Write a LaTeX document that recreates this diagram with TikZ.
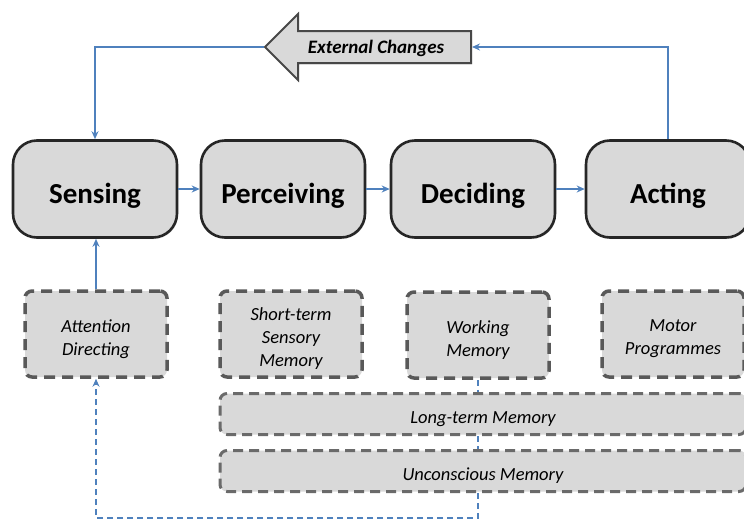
\documentclass[tikz,border=0pt]{standalone}
\usepackage{fontspec}
\setmainfont{Carlito}
\usetikzlibrary{shapes.arrows,arrows.meta,shadows}
\definecolor{boxfill}{HTML}{D9D9D9}
\definecolor{boxline}{HTML}{262626}
\definecolor{dashline}{HTML}{595959}
\definecolor{flowblue}{HTML}{4F81BD}

\begin{document}
\begin{tikzpicture}[x=1pt,y=-1pt,
  softshadow/.style={drop shadow={opacity=0.2, shadow xshift=1pt, shadow yshift=-1.5pt}},
  stage/.style={draw=boxline, line width=2.6pt, fill=boxfill, rounded corners=24pt,
    minimum width=164pt, minimum height=97pt, softshadow,
    text height=29pt, text depth=1pt,
    font=\fontsize{29}{32}\selectfont\bfseries},
  storetext/.style={align=center, yshift=-5pt,
    font=\fontsize{18.5}{23}\selectfont\itshape},
  store/.style={draw=dashline, line width=3.5pt, dash pattern=on 11pt off 7pt,
    fill=boxfill, rounded corners=7pt, minimum width=142pt, minimum height=86pt,
    label={[storetext]center:#1}},
  longstore/.style={store={#1}, line width=3pt, draw=dashline!90,
    dash pattern=on 10pt off 6pt, minimum width=526pt, minimum height=41pt},
  flow/.style={draw=flowblue, line width=1.5pt, -{Stealth[length=8pt,width=7pt]}},
  recall/.style={draw=flowblue, line width=1.5pt, dash pattern=on 6pt off 4pt}]

\useasboundingbox (0,0) rectangle (744,522);

% processing stages
\node[stage] (sens) at (95,189) {Sensing};
\node[stage] (perc) at (283,189) {Perceiving};
\node[stage] (deci) at (473,189) {Deciding};
\node[stage] (act)  at (668,189) {Acting};

% supporting memories and functions
\node[store={Attention\\Directing}]          (ad)   at (96,334)  {};
\node[store={Short-term\\Sensory\\Memory}]   (stsm) at (291,334) {};
\node[store={Working\\Memory}]               (wm)   at (478,335) {};
\node[store={Motor\\Programmes}]             (mp)   at (673,334) {};
\node[longstore={Long-term Memory}]          (ltm)  at (483,414) {};
\node[longstore={Unconscious Memory}]        (um)   at (483,471) {};

% feedback from the environment
\node[single arrow, shape border rotate=180, draw=boxline!85, fill=boxfill,
  line width=2pt, minimum height=206pt, single arrow head extend=17pt,
  single arrow tip angle=90, inner xsep=6pt, inner ysep=8pt,
  text height=13pt, text depth=1pt, softshadow,
  font=\fontsize{19}{21}\selectfont\bfseries\itshape] (ext) at (376,47) {External Changes};

% main flow
\draw[flow] (sens) -- (perc);
\draw[flow] (perc) -- (deci);
\draw[flow] (deci) -- (act);
\draw[flow] (act.north) |- (ext.tail);
\draw[flow] (ext.tip) -| (sens.north);
\draw[flow] (ad.north) -- (ad.north |- sens.south);

% memory recall path
\coordinate (floor) at (0,518);
\draw[recall] (wm.south) -- (wm.south |- ltm.north);
\draw[recall] (wm.south |- ltm.south) -- (wm.south |- um.north);
\draw[recall, -{Stealth[length=8pt,width=7pt]}] (wm.south |- um.south) -- (wm.south |- floor) -| (ad.south);
\end{tikzpicture}
\end{document}
